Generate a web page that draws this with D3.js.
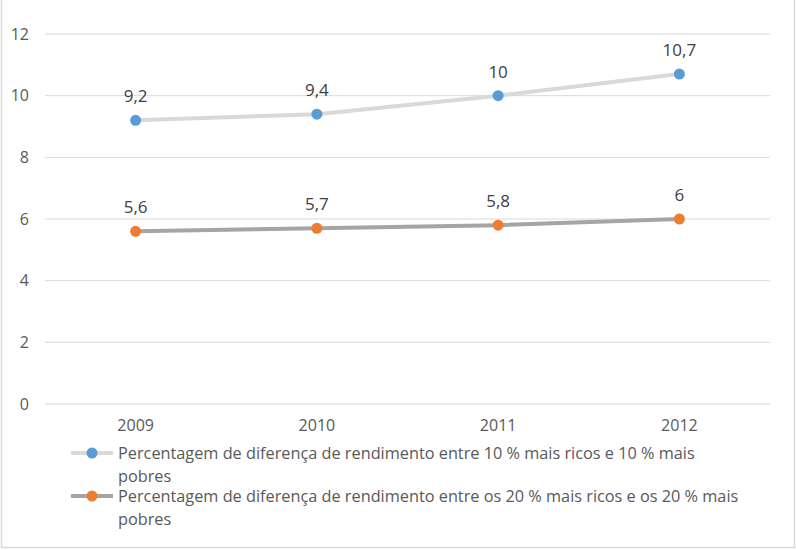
<!DOCTYPE html>
<html>
<head>
<meta charset="utf-8">
<script src="https://cdn.jsdelivr.net/npm/d3@7"></script>
<style>
  body { margin: 0; background: #fff; }
  text { font-family: "Open Sans", "Noto Sans", sans-serif; fill: #595959; }
</style>
</head>
<body>
<div id="chart"></div>
<script>
const years = ["2009", "2010", "2011", "2012"];
const ricos10 = [9.2, 9.4, 10, 10.7];
const ricos20 = [5.6, 5.7, 5.8, 6];
const yTicks = [0, 2, 4, 6, 8, 10, 12];
const seriesNames = [
    ["Percentagem de diferença de rendimento entre 10 % mais ricos e 10 % mais", "pobres"],
    ["Percentagem de diferença de rendimento entre os 20 % mais ricos e os 20 % mais", "pobres"]
];

const fmt = v => String(v).replace(".", ",");

const W = 796, H = 550;
const MARGIN = {LEFT: 45, RIGHT: 26, TOP: 34, BOTTOM: 146};
const WIDTH = W - MARGIN.LEFT - MARGIN.RIGHT;
const HEIGHT = H - MARGIN.TOP - MARGIN.BOTTOM;

const svg = d3.select("#chart").append("svg")
    .attr("width", W)
    .attr("height", H);

// chart border
svg.append("rect")
    .attr("x", 1.5).attr("y", -2)
    .attr("width", W - 3).attr("height", H - 0.5)
    .attr("fill", "none")
    .attr("stroke", "#d9d9d9")
    .attr("stroke-width", 1.5);

const g = svg.append("g")
    .attr("transform", `translate(${MARGIN.LEFT}, ${MARGIN.TOP})`);

const x = d3.scaleBand().domain(years).range([0, WIDTH]);
const y = d3.scaleLinear().domain([0, 12]).range([HEIGHT, 0]);
const cx = d => x(d) + x.bandwidth() / 2;

// gridlines
g.selectAll(".grid")
    .data(yTicks)
    .enter().append("line")
    .attr("class", "grid")
    .attr("x1", 0).attr("x2", WIDTH)
    .attr("y1", d => y(d)).attr("y2", d => y(d))
    .attr("stroke", "#d9d9d9")
    .attr("stroke-width", 1);

// y axis labels
const yAxis = g.append("g")
    .attr("transform", "translate(-16, 0)")
    .call(d3.axisLeft(y).tickValues(yTicks).tickSize(0).tickFormat(d => d));
yAxis.attr("font-family", null).attr("font-size", null);
yAxis.select(".domain").remove();
yAxis.selectAll("text")
    .attr("x", 0)
    .style("font-size", "16px")
    .style("fill", "#595959");

// x axis labels
const xAxis = g.append("g")
    .attr("transform", `translate(0, ${HEIGHT + 13})`)
    .call(d3.axisBottom(x).tickSize(0));
xAxis.attr("font-family", null).attr("font-size", null);
xAxis.select(".domain").remove();
xAxis.selectAll("text")
    .style("font-size", "16px")
    .style("fill", "#595959");

const series = [
    {values: ricos10, line: "#d9d9d9", dot: "#5b9bd5"},
    {values: ricos20, line: "#a5a5a5", dot: "#ed7d31"}
];

const line = d3.line()
    .x((d, i) => cx(years[i]))
    .y(d => y(d));

series.forEach(s => {
    g.append("path")
        .attr("d", line(s.values))
        .attr("fill", "none")
        .attr("stroke", s.line)
        .attr("stroke-width", 4)
        .attr("stroke-linecap", "round");

    g.selectAll(null)
        .data(s.values)
        .enter().append("circle")
        .attr("cx", (d, i) => cx(years[i]))
        .attr("cy", d => y(d))
        .attr("r", 5.5)
        .attr("fill", s.dot);

    g.selectAll(null)
        .data(s.values)
        .enter().append("text")
        .attr("x", (d, i) => cx(years[i]))
        .attr("y", d => y(d) - 18)
        .attr("text-anchor", "middle")
        .style("font-size", "17px")
        .style("fill", "#404040")
        .text(d => fmt(d));
});

// legend
const legend = svg.append("g");
const legendRow = legend.selectAll(".legendRow")
    .data(series)
    .enter().append("g")
    .attr("class", "legendRow")
    .attr("transform", (d, i) => `translate(0, ${453 + i * 43})`);

legendRow.append("line")
    .attr("x1", 71).attr("x2", 113)
    .attr("y1", 0).attr("y2", 0)
    .attr("stroke", d => d.line)
    .attr("stroke-width", 4);

legendRow.append("circle")
    .attr("cx", 92).attr("cy", 0).attr("r", 5.5)
    .attr("fill", d => d.dot);

legendRow.append("text")
    .attr("x", 118)
    .attr("y", 6)
    .style("font-size", "16.3px")
    .selectAll("tspan")
    .data((d, i) => seriesNames[i])
    .enter().append("tspan")
    .attr("x", 118)
    .attr("dy", (d, i) => i === 0 ? 0 : 23)
    .text(d => d);
</script>
</body>
</html>
